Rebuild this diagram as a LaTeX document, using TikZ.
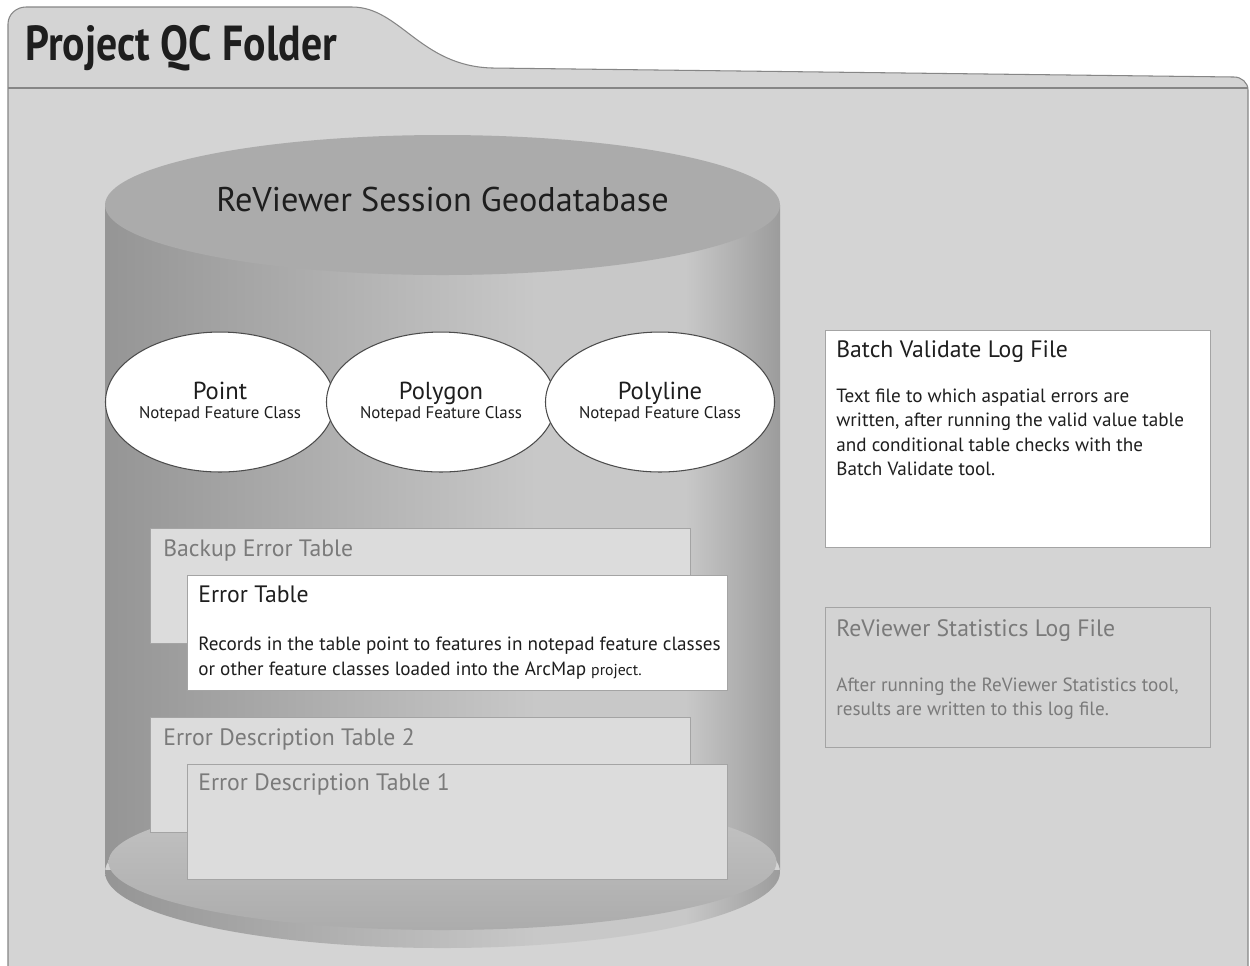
\documentclass[tikz,border=0pt]{standalone}
\usepackage{fontspec}
\setmainfont{PT Sans}
\newfontfamily\condfont[FakeStretch=0.85]{PT Sans}
\usetikzlibrary{shapes.geometric, positioning, calc, backgrounds}
\definecolor{folderfill}{HTML}{D4D4D4}
\definecolor{folderline}{HTML}{868686}
\definecolor{dbtop}{HTML}{ABABAB}
\definecolor{dbdark}{HTML}{959595}
\definecolor{dblight}{HTML}{C8C8C8}
\definecolor{dbedge}{HTML}{9C9C9C}
\definecolor{dbfloor}{HTML}{BFBFBF}
\definecolor{tablegray}{HTML}{DCDCDC}
\definecolor{tableline}{HTML}{A4A4A4}
\definecolor{fadedtext}{HTML}{7A7A7A}
\definecolor{inktext}{HTML}{1E1E1E}
\pgfdeclarehorizontalshading{dbbody}{100bp}{color(0bp)=(dbdark); color(25bp)=(dbdark); color(57bp)=(dblight); color(68bp)=(dblight); color(75bp)=(dbedge); color(100bp)=(dbedge)}

\begin{document}
\begin{tikzpicture}[x=0.02cm, y=-0.02cm,
  featclass/.style={ellipse, draw=black!70, fill=white, line width=0.6pt, minimum width=4.56cm, minimum height=2.8cm, align=center, inner sep=0pt, text=inktext},
  tablebox/.style={draw=tableline, fill=tablegray, anchor=north west, minimum width=10.8cm, minimum height=2.3cm, inner sep=0pt},
  tabletop/.style={tablebox, fill=white},
  logbox/.style={draw=tableline, fill=white, anchor=north west, minimum width=7.7cm, inner sep=0pt},
  boxtitle/.style={anchor=base west, inner sep=0pt, font=\fontsize{13.5}{16}\selectfont, text=inktext},
  fadedtitle/.style={boxtitle, text=fadedtext},
  boxbody/.style={anchor=north west, inner sep=0pt, align=left, font=\fontsize{10.9}{13.7}\selectfont, text=inktext},
]
  \useasboundingbox (0,0) rectangle (1250,965);
  \fill[white] (0,0) rectangle (1250,965);

  % folder with tab
  \filldraw[fill=folderfill, draw=folderline, line width=0.6pt]
    (8,966) -- (8,24) to[out=90, in=180] (26,7) -- (352,7)
    .. controls (400,7) and (420,66) .. (492,68)
    -- (1234,77) to[out=0, in=90] (1248,90) -- (1248,966);
  \draw[folderline, line width=0.6pt] (8,88) -- (1248,88);
  \node[anchor=base west, inner sep=0pt, font=\condfont\bfseries\fontsize{28}{32}\selectfont, text=inktext] (folder) at (25,60) {Project QC Folder};

  % session geodatabase cylinder
  \shade[shading=dbbody] (105,205) rectangle (780,870) (442.5,872) ellipse [x radius=337.5, y radius=76];
  \shade[top color=dbfloor!90!white, bottom color=dbfloor!90!black] (442.5,862) ellipse [x radius=334, y radius=68];
  \fill[dbtop] (442.5,205) ellipse [x radius=337.5, y radius=70];
  \node[anchor=base, inner sep=0pt, font=\fontsize{19.5}{24}\selectfont, text=inktext] (gdb) at (442.5,211) {ReViewer Session Geodatabase};

  \node[featclass] (point) at (220,402) {{\fontsize{14}{17}\selectfont Point}\\[-1pt]{\fontsize{9.6}{11}\selectfont Notepad Feature Class}};
  \node[featclass] (polygon) at (441,402) {{\fontsize{14}{17}\selectfont Polygon}\\[-1pt]{\fontsize{9.6}{11}\selectfont Notepad Feature Class}};
  \node[featclass] (polyline) at (660,402) {{\fontsize{14}{17}\selectfont Polyline}\\[-1pt]{\fontsize{9.6}{11}\selectfont Notepad Feature Class}};

  \node[tablebox] (backup) at (150,528) {};
  \node[fadedtitle] (backuptitle) at (163,556) {Backup Error Table};
  \node[tabletop] (errtab) at (187,575) {};
  \node[boxtitle] (errtitle) at (198,602) {Error Table};
  \node[boxbody] (errbody) at (198,637) {Records in the table point to features in notepad feature classes\\or other feature classes loaded into the ArcMap {\fontsize{9}{10}\selectfont project.}};

  \node[tablebox] (desc2) at (150,717) {};
  \node[fadedtitle] (desc2title) at (163,745) {Error Description Table 2};
  \node[tablebox] (desc1) at (187,764) {};
  \node[fadedtitle] (desc1title) at (198,790) {Error Description Table 1};

  % log files
  \node[logbox, minimum height=4.34cm] (batchlog) at (825,330) {};
  \node[boxtitle] (batchtitle) at (836,357) {Batch Validate Log File};
  \node[boxbody] (batchbody) at (836,389) {Text file to which aspatial errors are\\written, after running the valid value table\\and conditional table checks with the\\Batch Validate tool.};

  \node[logbox, fill=tablegray!96!black, minimum height=2.8cm] (statlog) at (825,607) {};
  \node[fadedtitle] (stattitle) at (836,636) {ReViewer Statistics Log File};
  \node[boxbody, text=fadedtext] (statbody) at (836,677) {After running the ReViewer Statistics tool,\\results are written to this log file.};
\end{tikzpicture}
\end{document}
